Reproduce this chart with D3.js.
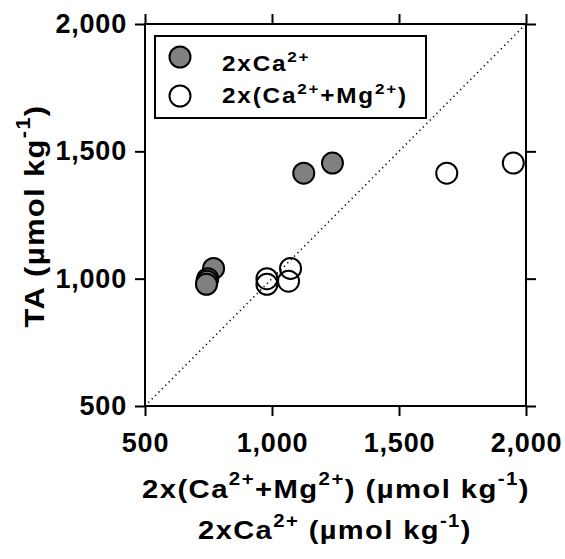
<!DOCTYPE html>
<html><head><meta charset="utf-8">
<script src="https://cdn.jsdelivr.net/npm/d3@7"></script>
<style>body{margin:0;background:#fff}svg{display:block}text{font-family:"Liberation Sans",Arial,sans-serif;font-weight:bold}</style>
</head><body><svg id="c" width="565" height="559"></svg>
<script>
const taValues = [1454, 1414, 1040, 1000, 990, 978];
const caX = [1238, 1125, 770, 747, 744, 742];
const caMgX = [1950, 1688, 1073, 980, 1065, 980];
const ticks = [500, 1000, 1500, 2000];
const seriesNames = ["2xCa", "2x(Ca"];

const svg = d3.select("#c");
const m = {l:145, r:526, t:24, b:406};
const x = d3.scaleLinear().domain([500,2000]).range([m.l, m.r]);
const y = d3.scaleLinear().domain([500,2000]).range([m.b, m.t]);
const fmt = d3.format(",");

// diagonal 1:1 line
svg.append("line").attr("x1",x(500)).attr("y1",y(500)).attr("x2",x(2000)).attr("y2",y(2000))
  .attr("stroke","#000").attr("stroke-width",1.6).attr("stroke-dasharray","1.2,3.6");

// axes
const axB = d3.axisBottom(x).tickValues(ticks).tickSize(10).tickFormat(fmt);
const axL = d3.axisLeft(y).tickValues(ticks).tickSize(10).tickFormat(fmt);
const axT = d3.axisTop(x).tickValues(ticks).tickSize(10).tickFormat("");
const axR = d3.axisRight(y).tickValues(ticks).tickSize(10).tickFormat("");
function style(g){
  g.select(".domain").remove();
  g.selectAll(".tick line").attr("stroke","#000").attr("stroke-width",2);
  g.selectAll("text").attr("fill","#000").style("font-size","27px").style("letter-spacing","0.8px");
}
const gB = svg.append("g").attr("transform",`translate(0,${m.b})`).call(axB).call(style);
gB.selectAll("text").attr("y",27);
const gL = svg.append("g").attr("transform",`translate(${m.l},0)`).call(axL).call(style);
gL.selectAll("text").attr("x",-18);
svg.append("g").attr("transform",`translate(0,${m.t})`).call(axT).call(style);
svg.append("g").attr("transform",`translate(${m.r},0)`).call(axR).call(style);
// frame
svg.append("rect").attr("x",m.l).attr("y",m.t).attr("width",m.r-m.l).attr("height",m.b-m.t)
  .attr("fill","none").attr("stroke","#000").attr("stroke-width",2);

// points
const filled = taValues.map((t,i)=>({x:caX[i], y:t}));
const open = taValues.map((t,i)=>({x:caMgX[i], y:t}));
svg.append("g").selectAll("circle").data(filled).join("circle")
  .attr("cx",d=>x(d.x)).attr("cy",d=>y(d.y)).attr("r",10.5)
  .attr("fill","#808080").attr("stroke","#000").attr("stroke-width",2);
svg.append("g").selectAll("circle").data(open).join("circle")
  .attr("cx",d=>x(d.x)).attr("cy",d=>y(d.y)).attr("r",10.5)
  .attr("fill","none").attr("stroke","#000").attr("stroke-width",2);

// superscript helpers
function sup(t, s, d){ t.append("tspan").attr("dy",-d).style("font-size","0.7em").text(s); }
function back(t, d){ return t.append("tspan").attr("dy",d); }
// horizontally stretch a text (wide lettering of the reference) to a target width
function stretch(t, target, tx, ty, rot){
  const w = t.node().getBBox().width;
  const sx = target / w;
  t.attr("transform", `translate(${tx},${ty})` + (rot ? ` rotate(${rot})` : "") + ` scale(${sx},1)`);
  return sx;
}

// legend
svg.append("rect").attr("x",155).attr("y",36).attr("width",271).attr("height",82)
  .attr("fill","#fff").attr("stroke","#000").attr("stroke-width",2);
svg.append("circle").attr("cx",180).attr("cy",57).attr("r",10.5).attr("fill","#808080").attr("stroke","#000").attr("stroke-width",2);
svg.append("circle").attr("cx",180).attr("cy",96).attr("r",10.5).attr("fill","none").attr("stroke","#000").attr("stroke-width",2);
const lfs = "21.5px", lsp = "1.6px", lsd = 9;
let lt1 = svg.append("text").attr("x",0).attr("y",0).style("font-size",lfs).style("letter-spacing",lsp);
lt1.append("tspan").text(seriesNames[0]); sup(lt1,"2+",lsd);
let lt2 = svg.append("text").attr("x",0).attr("y",0).style("font-size",lfs).style("letter-spacing",lsp);
lt2.append("tspan").text(seriesNames[1]); sup(lt2,"2+",lsd); back(lt2,lsd).text("+Mg"); sup(lt2,"2+",lsd); back(lt2,lsd).text(")");
const lsx = stretch(lt2, 186, 222, 103);
lt1.attr("transform", `translate(222,71) scale(${lsx},1)`);

// x titles
const ts = "25px", tsp = "1.2px", sd = 13;
let xt = svg.append("text").attr("x",0).attr("y",0).attr("text-anchor","middle").style("font-size",ts).style("letter-spacing",tsp);
xt.append("tspan").text("2x(Ca"); sup(xt,"2+",sd); back(xt,sd).text("+Mg"); sup(xt,"2+",sd); back(xt,sd).text(") (µmol kg"); sup(xt,"-1",sd); back(xt,sd).text(")");
stretch(xt, 388, 336, 498);
let xt2 = svg.append("text").attr("x",0).attr("y",0).attr("text-anchor","middle").style("font-size",ts).style("letter-spacing",tsp);
xt2.append("tspan").text("2xCa"); sup(xt2,"2+",sd-1); back(xt2,sd-1).text(" (µmol kg"); sup(xt2,"-1",sd-1); back(xt2,sd-1).text(")");
stretch(xt2, 274, 335, 539);

// y title
const yt = svg.append("text").attr("x",0).attr("y",0).attr("text-anchor","middle").style("font-size","28px").style("letter-spacing","1.2px");
yt.append("tspan").text("TA (µmol kg"); sup(yt,"-1",14); back(yt,14).text(")");
stretch(yt, 223, 44, 216, -90);
</script></body></html>
